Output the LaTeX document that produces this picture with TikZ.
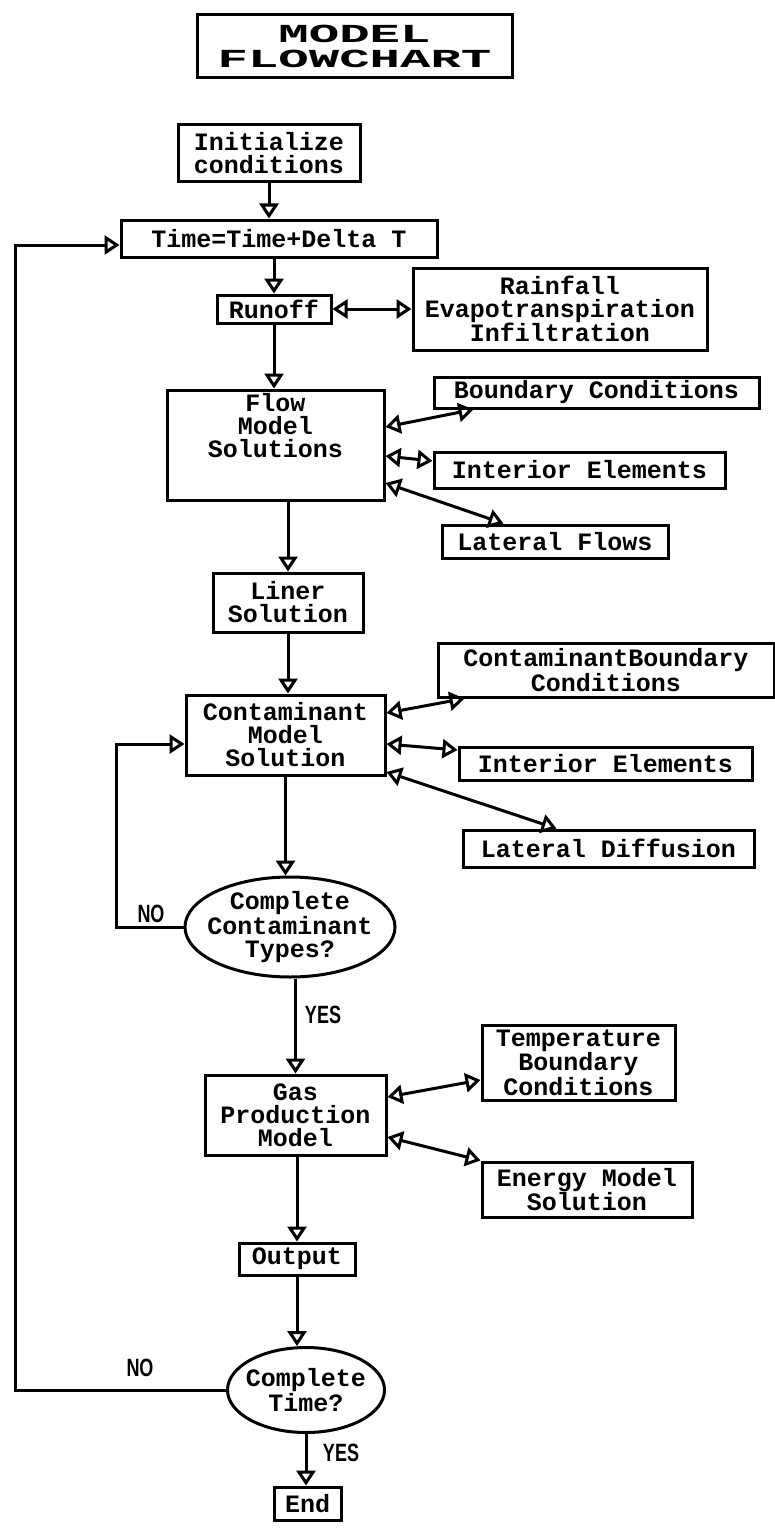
\documentclass[tikz,border=0pt]{standalone}
\usepackage{fontspec}
\usepackage{graphicx}
\usetikzlibrary{arrows.meta, shapes.geometric, positioning, calc}
\newfontfamily\chartmono{Liberation Mono}
\newfontfamily\chartsans{Liberation Sans}
\newcommand{\cond}[1]{\scalebox{0.72}[1]{#1}}
\newcommand{\wide}[1]{\scalebox{1.95}[1]{#1}}
\tikzset{
	blk/.style    ={rectangle, draw=black, line width=3pt, inner sep=0pt, align=center, font=\chartmono\bfseries\fontsize{25}{23}\selectfont},
	query/.style  ={ellipse, draw=black, line width=3pt, inner xsep=-30pt, inner ysep=-8pt, align=center, font=\chartmono\bfseries\fontsize{25}{23}\selectfont},
	answer/.style ={font=\chartsans\bfseries\fontsize{25}{25}\selectfont, inner sep=0pt},
	sig/.style    ={-{Triangle[open, length=15pt, width=19pt]}, line width=3pt},
	sigboth/.style={{Triangle[open, length=15pt, width=19pt]}-{Triangle[open, length=15pt, width=19pt]}, line width=3pt},
}
\begin{document}
\begin{tikzpicture}[x=1pt, y=-1pt]
	\useasboundingbox (0,0) rectangle (775,1533);
	\node[blk, minimum width=315pt, minimum height=63pt, font=\chartmono\bfseries\fontsize{26}{25}\selectfont] (title) at (354.5,46.5) {\wide{MODEL}\\\wide{FLOWCHART}};
	% main column
	\node[blk, minimum width=182pt, minimum height=57pt] (init) at (269,153.5) {Initialize\\conditions};
	\node[blk, minimum width=316pt, minimum height=37pt] (time) at (279,238.5) {Time=Time+Delta T};
	\node[blk, minimum width=114pt, minimum height=28pt] (runoff) at (274,309) {Runoff};
	\node[blk, minimum width=217pt, minimum height=110pt, text depth=39pt] (flow) at (275.5,445) {Flow\\Model\\Solutions};
	\node[blk, minimum width=150pt, minimum height=59pt] (liner) at (288,602.5) {Liner\\Solution};
	\node[blk, minimum width=199pt, minimum height=80pt] (cont) at (285.5,735) {Contaminant\\Model\\Solution};
	\node[query, minimum width=210pt, minimum height=100pt] (types) at (290,927) {Complete\\Contaminant\\Types?};
	\node[blk, minimum width=181pt, minimum height=80pt] (gas) at (295.5,1115) {Gas\\Production\\Model};
	\node[blk, minimum width=116pt, minimum height=32pt] (output) at (297,1259) {Output};
	\node[query, minimum width=157pt, minimum height=85pt] (done) at (306,1390) {Complete\\Time?};
	\node[blk, minimum width=67pt, minimum height=33pt] (finish) at (307.5,1503.5) {End};
	% side inputs
	\node[blk, minimum width=294pt, minimum height=82pt] (rain) at (560,309) {Rainfall\\Evapotranspiration\\Infiltration};
	\node[blk, minimum width=325pt, minimum height=31pt] (bca) at (596.5,392.5) {Boundary Conditions};
	\node[blk, minimum width=291pt, minimum height=36pt] (iea) at (579.5,470) {Interior Elements};
	\node[blk, minimum width=226pt, minimum height=33pt] (latflow) at (555,541.5) {Lateral Flows};
	\node[blk, minimum width=336pt, minimum height=54pt] (bcb) at (606,670) {ContaminantBoundary\\Conditions};
	\node[blk, minimum width=293pt, minimum height=33pt] (ieb) at (605.5,763.5) {Interior Elements};
	\node[blk, minimum width=291pt, minimum height=37pt] (latdiff) at (608.5,848.5) {Lateral Diffusion};
	\node[blk, minimum width=193pt, minimum height=75pt] (temp) at (578.5,1062.5) {Temperature\\Boundary\\Conditions};
	\node[blk, minimum width=210pt, minimum height=55pt] (energy) at (587,1189.5) {Energy Model\\Solution};
	% flow
	\draw[sig] (init) -- (init |- time.north);
	\draw[sig] (runoff |- time.south) -- (runoff.north);
	\draw[sigboth] (runoff) -- (rain);
	\draw[sig] (runoff) -- (runoff |- flow.north);
	\draw[sigboth] ([yshift=18pt]flow.east) -- ([xshift=41pt]bca.south west);
	\draw[sigboth] ([yshift=-11pt]flow.east) -- ([yshift=9pt]iea.west);
	\draw[sigboth] ([yshift=-38pt]flow.east) -- ([xshift=63pt]latflow.north west);
	\draw[sig] (liner |- flow.south) -- (liner.north);
	\draw[sig] (liner) -- (liner |- cont.north);
	\draw[sigboth] ([yshift=22pt]cont.east) -- ([xshift=28pt]bcb.south west);
	\draw[sigboth] ([yshift=-9pt]cont.east) -- ([yshift=13.5pt]ieb.west);
	\draw[sigboth] ([yshift=-37pt]cont.east) -- ([xshift=95pt]latdiff.north west);
	\draw[sig] (cont) -- (cont |- types.north);
	\draw[sig] (types.west) -- ++(-67,0) |- ([yshift=-9pt]cont.west);
	\node[answer] (noa) at (151,914) {\cond{NO}};
	\draw[sig] (gas |- types.south) -- (gas.north);
	\node[answer] (yesa) at (323,1015) {\cond{YES}};
	\draw[sigboth] ([yshift=18pt]gas.east) -- ([yshift=-17.5pt]temp.west);
	\draw[sigboth] ([yshift=-22pt]gas.east) -- (energy.north west);
	\draw[sig] (output |- gas.south) -- (output.north);
	\draw[sig] (output) -- (output |- done.north);
	\draw[sig] (done) -- (done |- finish.north);
	\node[answer] (yesb) at (341,1453) {\cond{YES}};
	\draw[sig] (done.west) -- ++(-211,0) |- ([yshift=-6.5pt]time.west);
	\node[answer] (nob) at (140,1368) {\cond{NO}};
\end{tikzpicture}
\end{document}
